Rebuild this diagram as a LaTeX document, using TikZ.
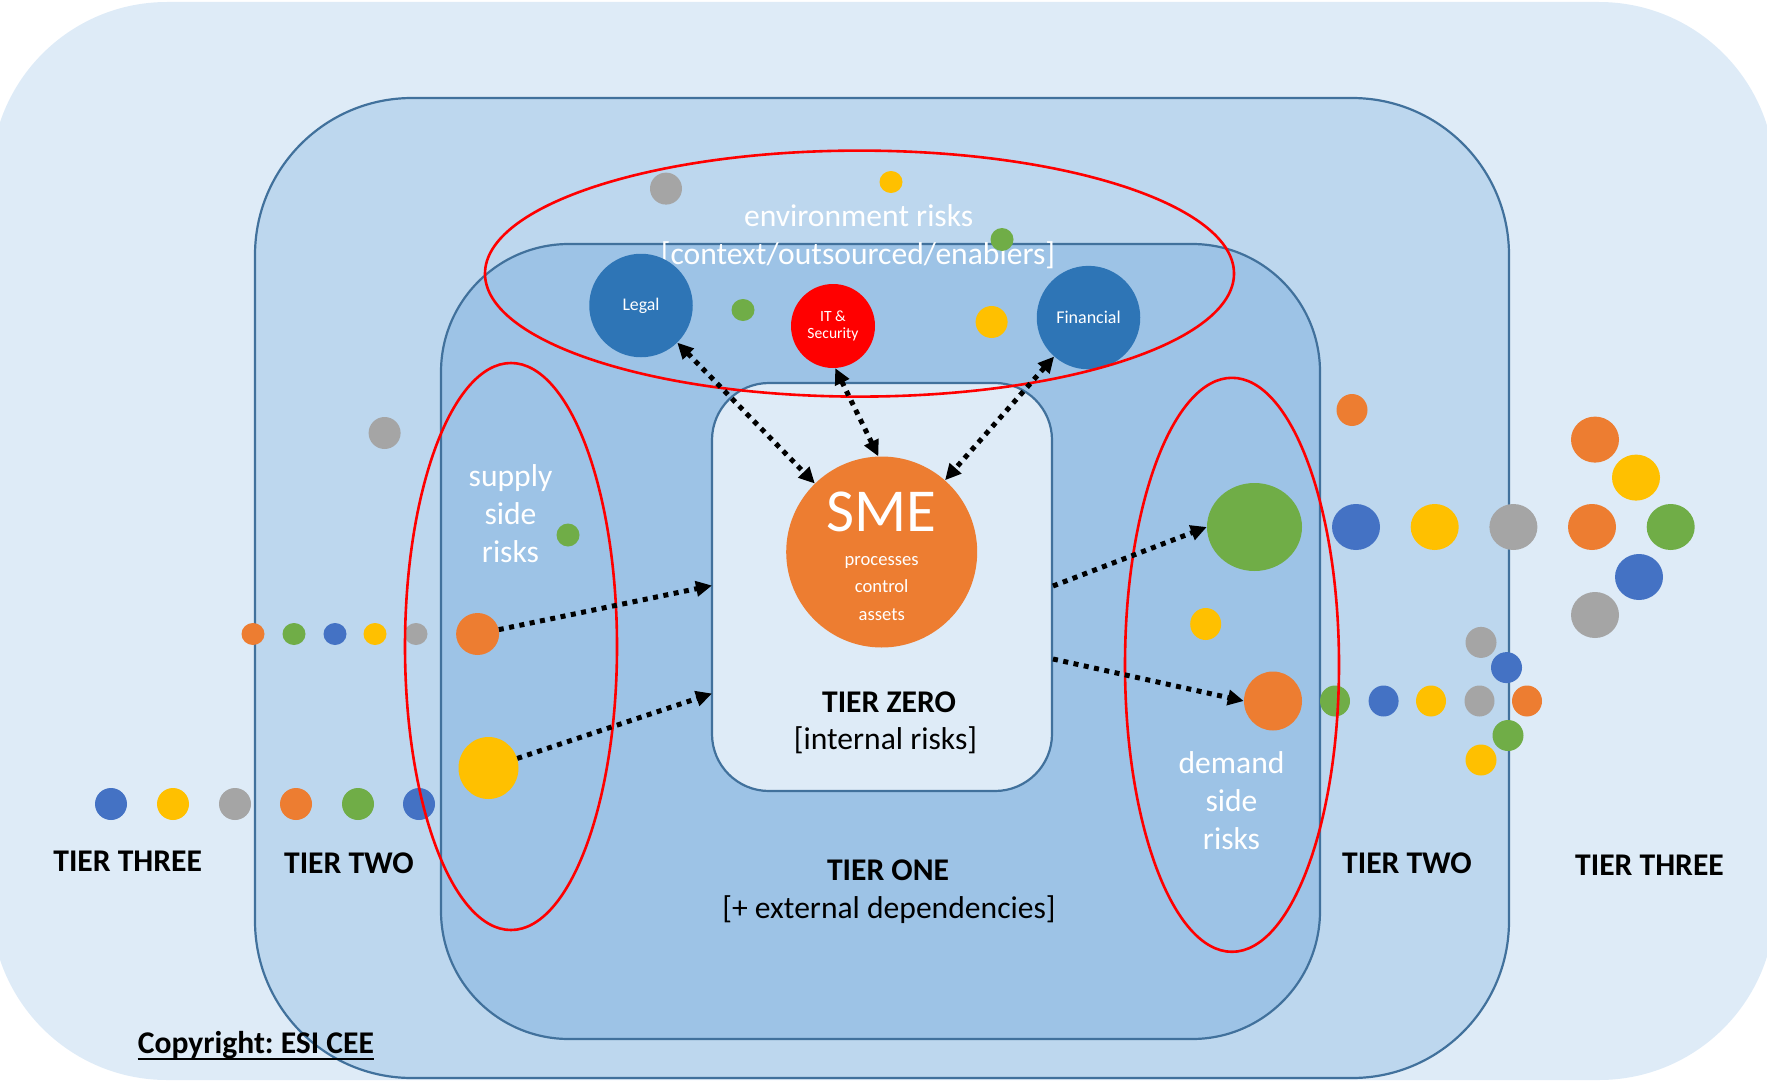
\documentclass[tikz,border=0pt]{standalone}
\usepackage{fontspec}
\setmainfont{Carlito}
\usetikzlibrary{arrows.meta,shapes.geometric}
\definecolor{bgOuter}{HTML}{DEEBF7}
\definecolor{bgTwo}{HTML}{BDD7EE}
\definecolor{bgOne}{HTML}{9DC3E6}
\definecolor{bgZero}{HTML}{DEEBF7}
\definecolor{edgeBlue}{HTML}{41719C}
\definecolor{cOrange}{HTML}{ED7D31}
\definecolor{cGreen}{HTML}{70AD47}
\definecolor{cBlue}{HTML}{4472C4}
\definecolor{cYellow}{HTML}{FFC000}
\definecolor{cGray}{HTML}{A5A5A5}
\definecolor{cDeep}{HTML}{2E75B6}
\definecolor{cRed}{HTML}{FF0000}
\frenchspacing
\begin{document}
\begin{tikzpicture}[x=1pt,y=-1pt,
  blob/.style n args={3}{ellipse, inner sep=0pt, fill=#1, minimum width=#2pt, minimum height=#3pt},
  tierbox/.style={draw=edgeBlue, line width=2.2pt, rectangle, inner sep=0pt},
  redring/.style={draw=cRed, line width=2.6pt, ellipse, inner sep=0pt},
  bigtxt/.style={font=\fontsize{31.6}{38}\selectfont, anchor=base, inner sep=0pt},
  whitetxt/.style={bigtxt, text=white},
  boldtxt/.style={bigtxt, font=\fontsize{31.6}{38}\selectfont\bfseries},
  smalltxt/.style={font=\fontsize{18.6}{22}\selectfont, anchor=base, inner sep=0pt, text=white},
  dotline/.style={line width=5pt, dash pattern=on 5pt off 5.5pt},
  dotfwd/.style={dotline, -{Triangle[length=16pt,width=15pt]}},
  dotboth/.style={dotline, {Triangle[length=16pt,width=15pt]}-{Triangle[length=16pt,width=15pt]}}
]
\clip (0,0) rectangle (1767,1081);
% background tiers
\fill[bgOuter, rounded corners=176pt] (-9,2) rectangle (1775,1080);
\node[tierbox, fill=bgTwo, rounded corners=157pt, minimum width=1254pt, minimum height=980pt] (tierTwo) at (882,588) {};
\node[tierbox, fill=bgOne, rounded corners=128pt, minimum width=879pt, minimum height=795pt] (tierOne) at (880.5,641.5) {};
\node[tierbox, fill=bgZero, rounded corners=57pt, minimum width=340pt, minimum height=408pt] (tierZero) at (882,587) {};

% texts
\node[whitetxt] (envA) at (858.7,226) {environment risks};
\node[whitetxt] (envB) at (858,264) {[context/outsourced/enabiers]};
\node[whitetxt] (supA) at (510.5,486) {supply};
\node[whitetxt] (supB) at (510.5,524) {side};
\node[whitetxt] (supC) at (510.5,562) {risks};
\node[whitetxt] (demA) at (1231.5,773) {demand};
\node[whitetxt] (demB) at (1231.5,811) {side};
\node[whitetxt] (demC) at (1231.5,849) {risks};
\node[boldtxt] (zeroT) at (889,712) {TIER ZERO};
\node[bigtxt] (zeroS) at (885.5,749) {[internal risks]};
\node[boldtxt] (oneT) at (888,880) {TIER ONE};
\node[bigtxt] (oneS) at (889,918.6) {[+ external dependencies]};
\node[boldtxt] (threeL) at (127.7,871.7) {TIER THREE};
\node[boldtxt] (twoL) at (349,873) {TIER TWO};
\node[boldtxt] (twoR) at (1407,873.5) {TIER TWO};
\node[boldtxt] (threeR) at (1649.5,875) {TIER THREE};
\node[boldtxt] (copy) at (255.9,1053) {Copyright: ESI CEE};
\draw[line width=2.2pt] ([yshift=-6pt]copy.base west) -- ([yshift=-6pt]copy.base east);

% environment circles
\node[blob={cDeep}{103.5}{103.5}, text=white, font=\fontsize{17.8}{20}\selectfont] (legal) at (641,305.5) {Legal};
\node[blob={cRed}{84}{84}, text=white, align=center, font=\fontsize{15.6}{16.5}\selectfont] (it) at (833,326) {IT \&\\Security};
\node[blob={cDeep}{103.5}{103.5}, text=white, font=\fontsize{18}{20}\selectfont] (fin) at (1088.5,317.6) {Financial};

% SME
\node[blob={cOrange}{191}{191}] (sme) at (881.7,552) {};
\node[bigtxt, text=white, font=\fontsize{61}{61}\selectfont] (smeT) at (881.7,531.7) {SME};
\node[smalltxt] (smeA) at (881.7,565) {processes};
\node[smalltxt] (smeB) at (881.7,592.7) {control};
\node[smalltxt] (smeC) at (881.7,620.7) {assets};

% environment dots
\node[blob={cGray}{32}{32}] (envGray) at (666,188.6) {};
\node[blob={cYellow}{23}{22}] (envYellow) at (891,182) {};
\node[blob={cGreen}{23}{23}] (envGreenA) at (1002,239.5) {};
\node[blob={cGreen}{23}{22}] (envGreenB) at (743,310) {};
\node[blob={cYellow}{32}{32}] (envYellowB) at (991.6,322) {};

% supply side dots
\node[blob={cGray}{32}{32}] (lGray) at (384.6,433) {};
\node[blob={cGreen}{23}{23}] (sGreen) at (568,535) {};
\node[blob={cOrange}{23}{22}] (sr1) at (253,634) {};
\node[blob={cGreen}{23}{22}] (sr2) at (294,634) {};
\node[blob={cBlue}{23}{22}] (sr3) at (335,634) {};
\node[blob={cYellow}{23}{22}] (sr4) at (375,634) {};
\node[blob={cGray}{23}{22}] (sr5) at (416,634) {};
\node[blob={cOrange}{43}{42}] (sOr) at (477.6,634) {};
\node[blob={cYellow}{60}{62}] (sYe) at (488.5,768) {};
\node[blob={cBlue}{32}{32}] (br1) at (111,804) {};
\node[blob={cYellow}{32}{32}] (br2) at (173,804) {};
\node[blob={cGray}{32}{32}] (br3) at (235,804) {};
\node[blob={cOrange}{32}{32}] (br4) at (296,804) {};
\node[blob={cGreen}{32}{32}] (br5) at (358,804) {};
\node[blob={cBlue}{32}{32}] (br6) at (419,804) {};

% demand side dots
\node[blob={cGreen}{95}{88}] (dGreen) at (1254.5,527) {};
\node[blob={cOrange}{31}{32}] (rOrSmall) at (1352,410) {};
\node[blob={cYellow}{31}{32}] (dYellow) at (1205.7,624) {};
\node[blob={cOrange}{58}{59}] (dOr) at (1273,701) {};
\node[blob={cBlue}{48}{46}] (rt1) at (1356,527) {};
\node[blob={cYellow}{48}{46}] (rt2) at (1434.7,527) {};
\node[blob={cGray}{48}{46}] (rt3) at (1513.4,527) {};
\node[blob={cOrange}{48}{46}] (rt4) at (1592,527) {};
\node[blob={cGreen}{48}{46}] (rt5) at (1670.7,527) {};
\node[blob={cOrange}{48}{46}] (t3a) at (1595,439.6) {};
\node[blob={cYellow}{48}{46}] (t3b) at (1636,477.6) {};
\node[blob={cBlue}{48}{46}] (t3c) at (1639,577) {};
\node[blob={cGray}{48}{46}] (t3d) at (1595,615) {};
\node[blob={cGreen}{30}{31}] (dr1) at (1335,701) {};
\node[blob={cBlue}{30}{31}] (dr2) at (1383.6,701) {};
\node[blob={cYellow}{30}{31}] (dr3) at (1431,701) {};
\node[blob={cGray}{30}{31}] (dr4) at (1479.5,701) {};
\node[blob={cOrange}{30}{31}] (dr5) at (1527,701) {};
\node[blob={cGray}{31}{31}] (dx1) at (1481,642.4) {};
\node[blob={cBlue}{31}{31}] (dx2) at (1506.5,667.6) {};
\node[blob={cGreen}{31}{31}] (dx3) at (1508,735.5) {};
\node[blob={cYellow}{31}{31}] (dx4) at (1481,760) {};

% red rings
\node[redring, minimum width=749pt, minimum height=246pt] (envRing) at (859.5,273.6) {};
\node[redring, minimum width=212pt, minimum height=567pt] (supRing) at (511,646.5) {};
\node[redring, minimum width=214pt, minimum height=574pt] (demRing) at (1232,664.8) {};

% connectors
\coordinate (zL1) at (712,585.5);
\coordinate (zL2) at (712,693.5);
\coordinate (zR1) at (1053,586);
\coordinate (zR2) at (1053,659);
\draw[dotfwd] (sOr) -- (zL1);
\draw[dotfwd] (sYe) -- (zL2);
\draw[dotfwd] (zR1) -- (dGreen.west);
\draw[dotfwd] (zR2) -- (dOr.west);
\draw[dotboth] (legal) -- (sme);
\draw[dotboth] (it.-87) -- (sme.92);
\draw[dotboth] (fin) -- (sme);
\end{tikzpicture}
\end{document}
